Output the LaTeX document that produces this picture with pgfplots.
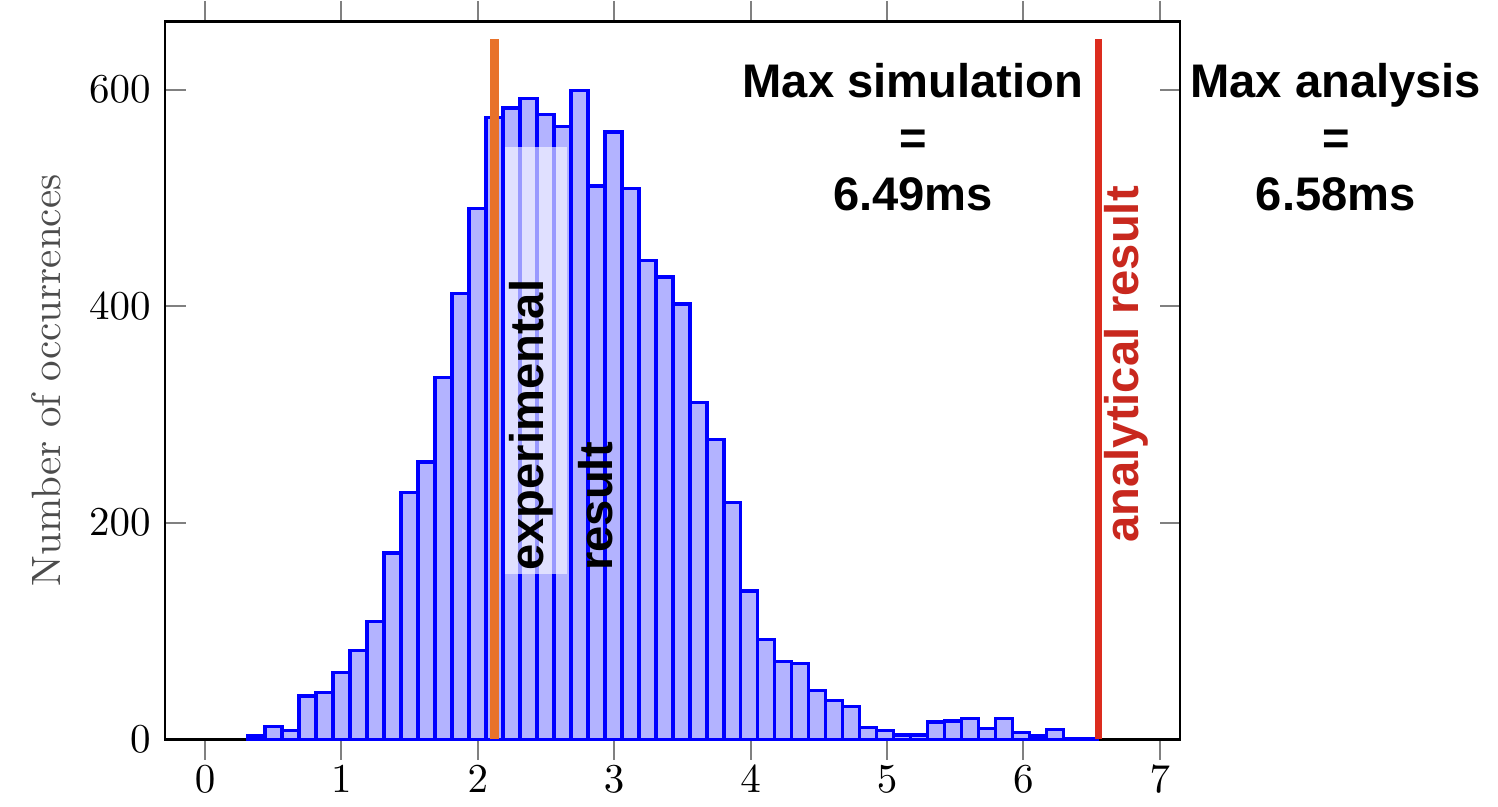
\documentclass[border=0pt]{standalone}
\usepackage{fontspec}
\usepackage{pgfplots}
\usepackage{pgfplotstable}
\pgfplotsset{compat=1.18}
\newfontfamily\arial{Liberation Sans}
\definecolor{barfill}{HTML}{B3B3FF}
\definecolor{expline}{HTML}{E8722A}
\definecolor{analine}{HTML}{DC2C1E}
\definecolor{anatext}{HTML}{C8281E}

% histogram bins: left edge, count (last row closes the interval)
\pgfplotstableread{
x y
0.315 3
0.4396 12
0.5642 8
0.6888 40
0.8134 43
0.938 62
1.0626 82
1.1872 109
1.3118 172
1.4364 228
1.561 256
1.6856 334
1.8102 412
1.9348 490
2.0594 574
2.184 583
2.3086 592
2.4332 577
2.5578 566
2.6824 599
2.807 511
2.9316 561
3.0562 509
3.1808 442
3.3054 427
3.43 402
3.5546 311
3.6792 277
3.8038 219
3.9284 137
4.053 92
4.1776 72
4.3022 70
4.4268 45
4.5514 36
4.676 30
4.8006 11
4.9252 8
5.0498 4
5.1744 4
5.299 16
5.4236 17
5.5482 19
5.6728 10
5.7974 19
5.922 6
6.0466 3
6.1712 9
6.2958 1
6.4204 1
6.545 0
}\histdata

\begin{document}
\begin{tikzpicture}
\begin{axis}[
    scale only axis,
    width=247.6pt, height=175.1pt,
    xmin=-0.293, xmax=7.148,
    ymin=0, ymax=663,
    xtick={0,1,...,7},
    ytick={0,200,400,600},
    xtick align=outside,
    major tick length=5pt,
    tick style={gray, line width=0.5pt},
    axis line style={line width=0.6pt},
    xticklabel style={yshift=2pt},
    ylabel={Number of occurrences},
    ylabel style={text=black!70},
    clip=false,
]
\addplot[ybar interval, fill=barfill, draw=blue, line width=0.8pt] table {\histdata};

\fill[white, opacity=0.6] (axis cs:2.199,153) rectangle (axis cs:2.654,547);

\addplot[expline, line width=2.1pt] coordinates {(2.122,0) (2.122,647)};
\addplot[analine, line width=1.8pt] coordinates {(6.55,0) (6.55,647)};

\tikzset{lbl/.style={inner sep=0, font=\arial\bfseries\fontsize{11.5}{13.8}\selectfont}}
\node[lbl, rotate=90, anchor=base west] at (axis cs:2.478,155) {experimental};
\node[lbl, rotate=90, anchor=base west] at (axis cs:2.991,155) {result};
\node[lbl, rotate=90, anchor=base west, text=anatext] at (axis cs:6.84,181) {analytical result};
\node[lbl, anchor=north, align=center] at (axis cs:5.19,625) {Max simulation\\=\\6.49ms};
\node[lbl, anchor=north, align=center] at (axis cs:8.29,625) {Max analysis\\=\\6.58ms};

\path (rel axis cs:-0.1626,-0.0905) rectangle (rel axis cs:1.3133,1.025);
\end{axis}
\end{tikzpicture}
\end{document}
